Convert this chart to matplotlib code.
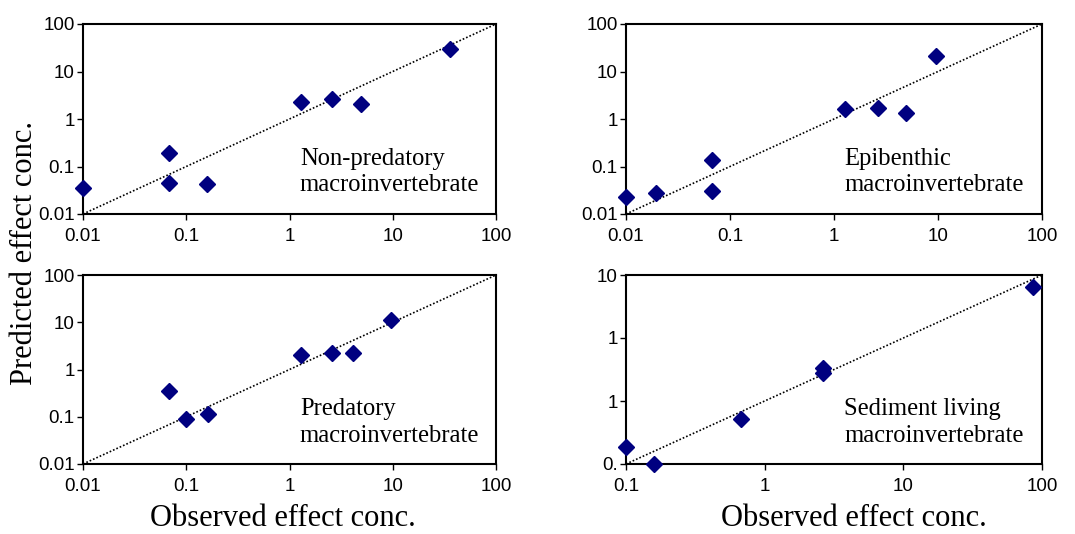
import numpy as np
import matplotlib.pyplot as plt

# observed vs predicted effect concentrations, one pair of lists per group
nonpred_obs = [0.01, 0.068, 0.068, 0.16, 1.28, 2.59, 4.93, 36.1]
nonpred_pred = [0.035, 0.19, 0.046, 0.043, 2.24, 2.68, 2.04, 30.2]

epi_obs = [0.01, 0.0194, 0.067, 0.067, 1.28, 2.62, 4.94, 9.62]
epi_pred = [0.0232, 0.0281, 0.137, 0.0305, 1.6, 1.73, 1.34, 21.5]

pred_obs = [0.068, 0.1, 0.161, 1.28, 2.59, 4.09, 9.7]
pred_pred = [0.345, 0.0896, 0.114, 2.03, 2.23, 2.23, 11.2]

sed_obs = [0.1, 0.16, 0.675, 2.62, 2.62, 86.5]
sed_pred = [0.0188, 0.01, 0.0512, 0.33, 0.282, 6.5]

wide_ticks = [0.01, 0.1, 1, 10, 100]
wide_labels = ["0.01", "0.1", "1", "10", "100"]
sed_xticks = [0.1, 1, 10, 100]
sed_xlabels = ["0.1", "1", "10", "100"]
sed_yticks = [0.01, 0.1, 1, 10]
sed_ylabels = ["0.", "1", "1", "10"]

MARK = "#000080"
TICK_FONT = "Liberation Sans"
TEXT_FONT = "Liberation Serif"

W, H = 1075, 534
fig = plt.figure(figsize=(W / 100, H / 100), dpi=100)


def px_axes(left, top, right, bottom):
    return fig.add_axes([left / W, 1 - bottom / H, (right - left) / W, (bottom - top) / H])


def panel(ax, obs, pred, lo, hi, xt, xl, yt, yl, label):
    ax.set_xscale("log")
    ax.set_yscale("log")
    # corner-to-corner reference line
    ax.plot([lo[0], hi[0]], [lo[1], hi[1]], color="black",
            linestyle=(0, (1, 1.2)), linewidth=1.2)
    ax.plot(obs, pred, linestyle="none", marker="D", markersize=8,
            color=MARK, clip_on=False, zorder=3)
    ax.set_xlim(lo[0], hi[0])
    ax.set_ylim(lo[1], hi[1])
    ax.set_xticks(xt)
    ax.set_xticklabels(xl)
    ax.set_yticks(yt)
    ax.set_yticklabels(yl)
    ax.minorticks_off()
    ax.tick_params(direction="out", length=4, width=1, labelsize=13.5, pad=2)
    ax.tick_params(axis="x", pad=6)
    for t in ax.get_xticklabels() + ax.get_yticklabels():
        t.set_fontfamily(TICK_FONT)
    for s in ax.spines.values():
        s.set_linewidth(1.5)
    ax.text(0.525, 0.22, label, transform=ax.transAxes, fontsize=17.7,
            family=TEXT_FONT, linespacing=1.25, va="center", ha="left")


ax1 = px_axes(83, 24, 496, 214)
panel(ax1, nonpred_obs, nonpred_pred, (0.01, 0.01), (100, 100),
      wide_ticks, wide_labels, wide_ticks, wide_labels,
      "Non-predatory\nmacroinvertebrate")

ax2 = px_axes(626, 24, 1042, 214)
panel(ax2, epi_obs, epi_pred, (0.01, 0.01), (100, 100),
      wide_ticks, wide_labels, wide_ticks, wide_labels,
      "Epibenthic\nmacroinvertebrate")

ax3 = px_axes(83, 275, 496, 464)
panel(ax3, pred_obs, pred_pred, (0.01, 0.01), (100, 100),
      wide_ticks, wide_labels, wide_ticks, wide_labels,
      "Predatory\nmacroinvertebrate")

ax4 = px_axes(626, 275, 1042, 464)
panel(ax4, sed_obs, sed_pred, (0.1, 0.01), (100, 10),
      sed_xticks, sed_xlabels, sed_yticks, sed_ylabels,
      "Sediment living\nmacroinvertebrate")

fig.text(25 / W, 1 - 253 / H, "Predicted effect conc.", rotation=90,
         ha="center", va="center", fontsize=22, family=TEXT_FONT)
fig.text(283 / W, 1 - 533 / H, "Observed effect conc.", ha="center",
         va="bottom", fontsize=22, family=TEXT_FONT)
fig.text(854 / W, 1 - 533 / H, "Observed effect conc.", ha="center",
         va="bottom", fontsize=22, family=TEXT_FONT)

fig.savefig("out.png", dpi=100)
